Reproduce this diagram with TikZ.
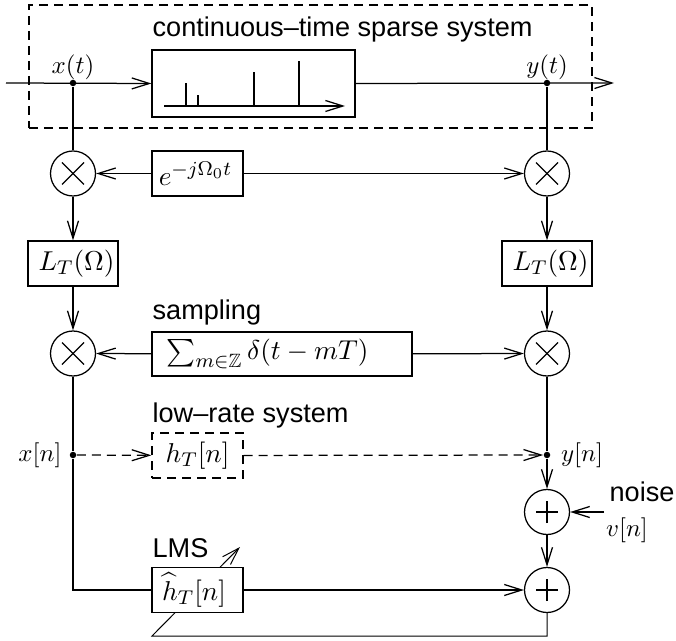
\documentclass[tikz,border=0pt]{standalone}
\usepackage{fontspec}
\usepackage{amssymb}
\newfontfamily\labelfont{Liberation Sans}
\usetikzlibrary{arrows.meta,calc}
\pgfdeclarelayer{background}
\pgfsetlayers{background,main}

\begin{document}
\begin{tikzpicture}[x=0.4bp,y=-0.4bp, line width=0.5bp,
  >={Straight Barb[length=7bp,width=4.4bp]},
  blk/.style={draw, fill=white, inner sep=0pt, minimum height=18bp, font=\fontsize{11bp}{13bp}\selectfont},
  dot/.style={circle, fill, inner sep=0pt, minimum size=2.6bp},
  junc/.style={circle, draw, fill=white, inner sep=0pt, minimum size=18bp},
  mixer/.style={junc, path picture={
      \draw ([shift={(-4.4bp,-4.4bp)}]path picture bounding box.center) -- ([shift={(4.4bp,4.4bp)}]path picture bounding box.center);
      \draw ([shift={(-4.4bp,4.4bp)}]path picture bounding box.center) -- ([shift={(4.4bp,-4.4bp)}]path picture bounding box.center);}},
  adder/.style={junc, path picture={
      \draw ([shift={(-4.4bp,0bp)}]path picture bounding box.center) -- ([shift={(4.4bp,0bp)}]path picture bounding box.center);
      \draw ([shift={(0bp,-4.4bp)}]path picture bounding box.center) -- ([shift={(0bp,4.4bp)}]path picture bounding box.center);}},
  lbl/.style={font=\labelfont\fontsize{10.85bp}{13bp}\selectfont, inner sep=0pt},
  dashline/.style={dash pattern=on 3.6bp off 2.4bp}]

\useasboundingbox (0,0) rectangle (676,641);

% continuous-time part
\node[draw, dashline, inner sep=0pt, minimum width=225.2bp, minimum height=49.2bp] (ctsys) at (310.5,66.5) {};
\node[lbl, anchor=base west] (ctlabel) at (152,37) {continuous–time sparse system};
\node[blk, minimum width=81.2bp, minimum height=26.8bp] (sys) at (253.5,83.5) {};
% sparse impulse response sketch
\draw[->] (164,106) -- (345,106);
\draw (186,106) -- (186,83);
\draw (198,106) -- (198,95);
\draw (254,106) -- (254,72);
\draw (299,106) -- (299,61);

\coordinate (in) at (6,83);
\coordinate (out) at (614,83);
\node[dot] (xt) at (73,83) {};
\node[dot] (yt) at (547,83) {};
\node (xtl) at (73,67) {$x(t)$};
\node (ytl) at (547,67) {$y(t)$};

% demodulation and lowpass filtering
\node[mixer] (mx1) at (73,173.5) {};
\node[mixer] (my1) at (547,173.5) {};
\node[blk, minimum width=36.4bp] (osc) at (197.5,173.5) {$e^{-j\Omega_0 t}$\hspace*{1.6bp}};
\node[blk, minimum width=36bp] (lpx) at (73,263.5) {\hspace*{2.8bp}$L_T(\Omega)$};
\node[blk, minimum width=36bp] (lpy) at (547,263.5) {\hspace*{2.8bp}$L_T(\Omega)$};

% sampling
\node[mixer] (mx2) at (73,353.5) {};
\node[mixer] (my2) at (547,353.5) {};
\node[blk, minimum width=104bp, minimum height=17.6bp] (smp) at (282,354) {$\sum_{m\in\mathbb{Z}}\delta(t-mT)$\hspace*{11.6bp}};
\node[lbl, anchor=base west] (smplabel) at (152,320) {sampling};

% low-rate system
\node[dot] (xn) at (73,455) {};
\node[dot] (yn) at (547,455) {};
\node (xnl) at (40,455) {$x[n]$};
\node (ynl) at (582,455) {$y[n]$};
\node[blk, dashline, minimum width=36.4bp] (hT) at (197.5,455.5) {$h_T[n]$};
\node[lbl, anchor=base west] (lrlabel) at (152,422) {low–rate system};

% noise and error
\node[adder] (sn) at (547,512) {};
\node[adder] (se) at (547,590) {};
\coordinate (nz) at (604,512);
\node[lbl, anchor=base west] (nzlabel) at (609,501) {noise};
\node (vnl) at (627,530) {$v[n]$};

% adaptive filter
\node[blk, minimum width=36.4bp] (hhat) at (197.5,590) {$\widehat{h}_T[n]$\hspace*{2.8bp}};
\node[lbl, anchor=base west] (lmslabel) at (152,557) {LMS};
\coordinate (fb) at (152,636);
\coordinate (tune) at (240,547);

% connections
\draw[->] (in) -- (sys.west);
\draw[->] (sys.east) -- (out);
\draw (xt) -- (mx1);
\draw (yt) -- (my1);
\draw[->] (osc) -- (mx1);
\draw[->] (osc) -- (my1);
\draw[->] (mx1) -- (lpx);
\draw[->] (my1) -- (lpy);
\draw[->] (lpx) -- (mx2);
\draw[->] (lpy) -- (my2);
\draw[->] (smp) -- (mx2);
\draw[->] (smp) -- (my2);
\draw (mx2) -- (xn);
\draw (my2) -- (yn);
\draw[dashline,->] (xn) -- (hT);
\draw[dashline,->] (hT) -- (yn);
\draw[->] (yn) -- (sn);
\draw[->] (nz) -- (sn);
\draw[->] (sn) -- (se);
\draw (xn) |- (hhat.west);
\draw[->] (hhat) -- (se);
\begin{pgfonlayer}{background}
\draw[->] (se.south) |- (fb) -- (tune);
\end{pgfonlayer}
\end{tikzpicture}
\end{document}
